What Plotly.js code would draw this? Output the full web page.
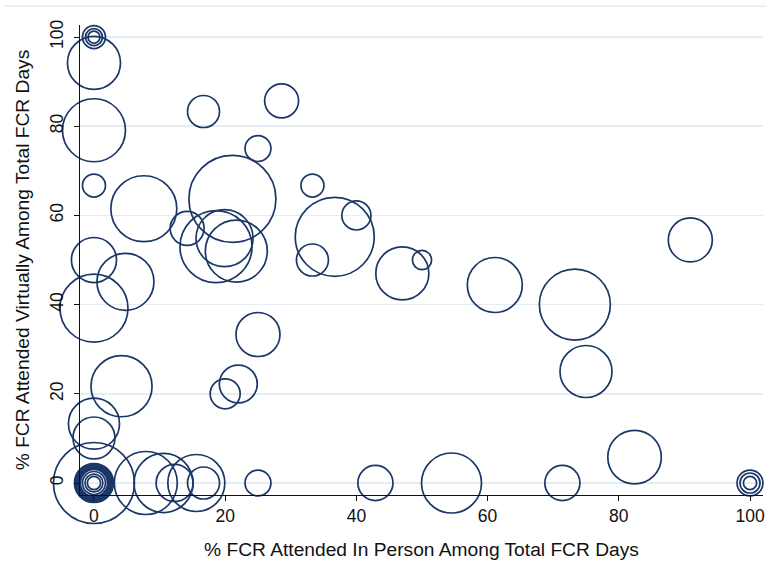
<!DOCTYPE html>
<html>
<head>
<meta charset="utf-8">
<script src="https://cdn.plot.ly/plotly-3.0.1.min.js"></script>
<style>
  html, body { margin: 0; padding: 0; background: #ffffff; }
  #chart { width: 766px; height: 566px; }
</style>
</head>
<body>
<div id="chart"></div>
<script>
// % FCR days attended in person (x) and virtually (y); bubble weight = FCR days
const inPerson = [0, 0, 0, 0, 0, 0, 7.6, 21.1, 25, 16.7, 28.6, 33.3, 40, 36.7, 14.2, 18.6, 19.9, 21.7, 33.3,
  0, 4.8, 0, 47, 50, 61.1, 73.3, 90.9, 25, 4.2, 22, 20, 75,
  0, 0, 0, 7.9, 10.6, 12.3, 15.6, 16.7, 25, 42.9, 54.5, 71.4, 82.4,
  100, 100, 100,
  0, 0, 0, 0, 0, 0, 0, 0, 0, 0];
const virtual = [100, 100, 100, 94.2, 79.1, 66.7, 61.5, 63.7, 75, 83.3, 85.7, 66.7, 60, 55.2, 57.1, 53, 54.9, 52, 50,
  50, 45.1, 39.2, 47, 50, 44.4, 40, 54.5, 33.3, 21.7, 22.2, 20, 25,
  13.3, 10.1, 0, 0, 0, 0, 0, 0, 0, 0, 0, 0, 5.8,
  0, 0, 0,
  0, 0, 0, 0, 0, 0, 0, 0, 0, 0];
const fcrDays = [33, 18, 9, 176, 248, 33, 272, 473, 42, 64, 72, 33, 53, 390, 72, 324, 203, 240, 64,
  127, 203, 289, 176, 23, 189, 315, 121, 121, 233, 90, 56, 169,
  163, 110, 410, 248, 218, 86, 203, 64, 42, 77, 225, 77, 179,
  42, 25, 11,
  95, 86, 77, 68, 60, 53, 46, 33, 20, 11];
const tickVals = [0, 20, 40, 60, 80, 100];
const tickText = ['0', '20', '40', '60', '80', '100'];

const navy = '#1a3767';
const fontFamily = '"Liberation Sans", Arial, Helvetica, sans-serif';

const trace = {
  type: 'scatter',
  mode: 'markers',
  x: inPerson,
  y: virtual,
  hoverinfo: 'x+y',
  marker: {
    symbol: 'circle',
    size: fcrDays,
    sizemode: 'area',
    sizeref: 0.125,
    opacity: 1,
    color: 'rgba(0,0,0,0)',
    line: { color: navy, width: 1.7 }
  },
  cliponaxis: false,
  showlegend: false
};

const axisCommon = {
  showline: true,
  linecolor: '#111111',
  linewidth: 1,
  ticks: 'outside',
  ticklen: 5,
  tickwidth: 1,
  tickcolor: '#111111',
  tickmode: 'array',
  tickvals: tickVals,
  ticktext: tickText,
  zeroline: false,
  tickfont: { family: fontFamily, size: 17.5, color: '#111111' }
};

const layout = {
  width: 766,
  height: 566,
  margin: { l: 80, r: 3, t: 25, b: 71 },
  paper_bgcolor: '#ffffff',
  plot_bgcolor: '#ffffff',
  font: { family: fontFamily, color: '#111111' },
  xaxis: Object.assign({}, axisCommon, {
    range: [-2.13, 101.98],
    showgrid: false,
    title: { text: '% FCR Attended In Person Among Total FCR Days', font: { family: fontFamily, size: 19.2, color: '#111111' }, standoff: 17 }
  }),
  yaxis: Object.assign({}, axisCommon, {
    range: [-2.69, 102.7],
    showgrid: true,
    gridcolor: '#e4edf1',
    gridwidth: 1.5,
    tickangle: -90,
    ticklabelstandoff: 4,
    title: { text: '% FCR Attended Virtually Among Total FCR Days', font: { family: fontFamily, size: 19.2, color: '#111111' }, standoff: 12 }
  }),
  shapes: [{
    type: 'line', xref: 'paper', yref: 'paper',
    x0: -0.11, x1: 1.01, y0: 1.0404, y1: 1.0404,
    line: { color: '#e6eef1', width: 1.5 },
    layer: 'below'
  }]
};

Plotly.newPlot('chart', [trace], layout, { displayModeBar: false, staticPlot: true });
</script>
</body>
</html>
